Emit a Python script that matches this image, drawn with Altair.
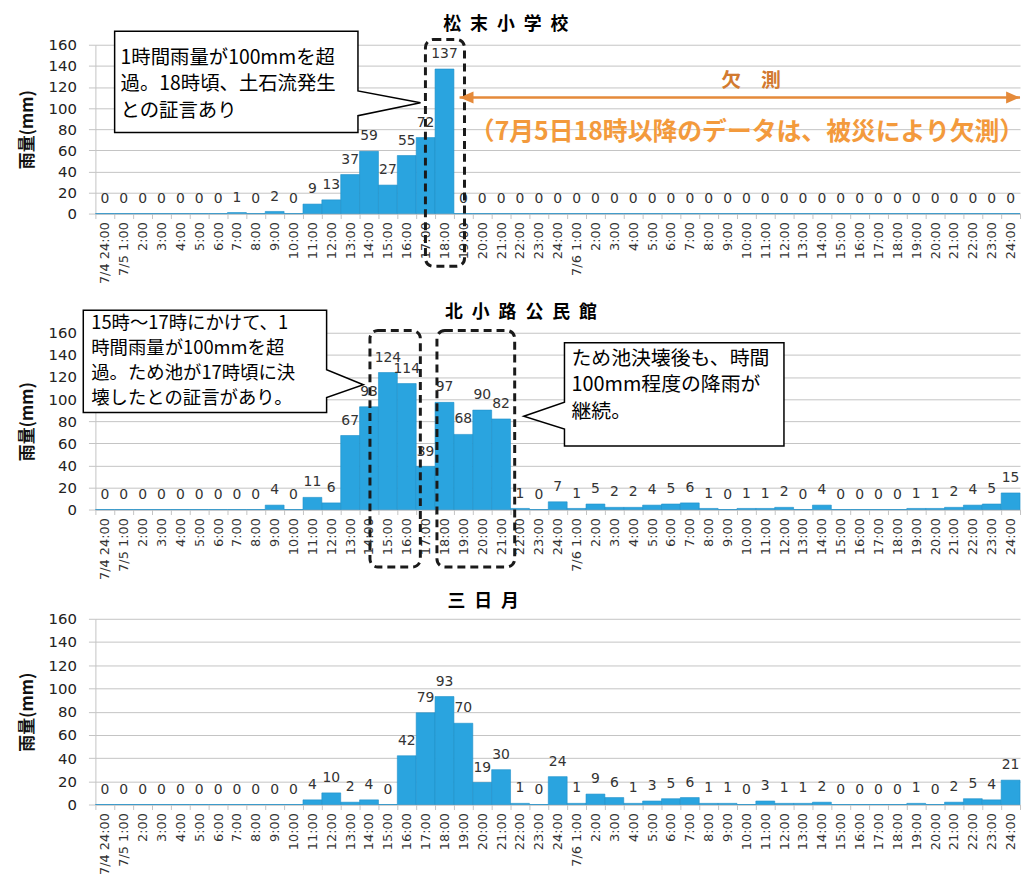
import altair as alt
import pandas as pd

# ---------------- data ----------------
hours = ["1:00", "2:00", "3:00", "4:00", "5:00", "6:00", "7:00", "8:00", "9:00", "10:00",
         "11:00", "12:00", "13:00", "14:00", "15:00", "16:00", "17:00", "18:00", "19:00",
         "20:00", "21:00", "22:00", "23:00", "24:00"]
slots = ["7/4 24:00"] + ["7/5 " + h for h in hours] + ["7/6 " + h for h in hours]

rain_matsusue = [0,
                 0, 0, 0, 0, 0, 0, 1, 0, 2, 0, 9, 13, 37, 59, 27, 55, 72, 137, 0, 0, 0, 0, 0, 0,
                 0, 0, 0, 0, 0, 0, 0, 0, 0, 0, 0, 0, 0, 0, 0, 0, 0, 0, 0, 0, 0, 0, 0, 0]
rain_kitakoji = [0,
                 0, 0, 0, 0, 0, 0, 0, 0, 4, 0, 11, 6, 67, 93, 124, 114, 39, 97, 68, 90, 82, 1, 0, 7,
                 1, 5, 2, 2, 4, 5, 6, 1, 0, 1, 1, 2, 0, 4, 0, 0, 0, 0, 1, 1, 2, 4, 5, 15]
rain_mikazuki = [0,
                 0, 0, 0, 0, 0, 0, 0, 0, 0, 0, 4, 10, 2, 4, 0, 42, 79, 93, 70, 19, 30, 1, 0, 24,
                 1, 9, 6, 1, 3, 5, 6, 1, 1, 0, 3, 1, 1, 2, 0, 0, 0, 0, 1, 0, 2, 5, 4, 21]

titles = ["松\u2002末\u2002小\u2002学\u2002校", "北\u2002小\u2002路\u2002公\u2002民\u2002館", "三\u2002日\u2002月"]

note1 = ["1時間雨量が100mmを超", "過。18時頃、土石流発生", "との証言あり"]
note2a = ["15時～17時にかけて、1", "時間雨量が100mmを超", "過。ため池が17時頃に決", "壊したとの証言があり。"]
note2b = ["ため池決壊後も、時間", "100mm程度の降雨が", "継続。"]
missing_label = "欠　測"
missing_note = "（7月5日18時以降のデータは、被災により欠測）"

# ---------------- style ----------------
FONT_JP = "Noto Sans CJK JP"
FONT_NUM = "DejaVu Sans"
BAR = "#2AA4DF"
BAR_EDGE = "#1F8FC9"
GRID = "#C4C4C4"
ORANGE = "#E58A3A"
ORANGE_TXT = "#F39A3C"
ORANGE_DARK = "#D27A30"
W = 931

xscale = alt.Scale(domain=slots, paddingInner=0, paddingOuter=0)
yscale = alt.Scale(domain=[0, 160], nice=False, zero=True)

label_expr = ("indexof(['7/4 24:00','7/5 1:00','7/6 1:00'], datum.value) >= 0 ? "
              "datum.value : split(datum.value, ' ')[1]")

x_axis = alt.Axis(title=None, labelAngle=-90, labelExpr=label_expr, labelFont=FONT_NUM,
                  labelFontSize=13, labelColor="#333333", tickBand="extent", tickSize=5,
                  tickColor=GRID, domainColor=GRID, labelPadding=3, grid=False,
                  labelOverlap=False, labelBound=False)
y_axis = alt.Axis(title="雨量(mm)", values=[0, 20, 40, 60, 80, 100, 120, 140, 160],
                  titleFont=FONT_JP, titleFontSize=17, titleFontWeight="bold",
                  titleColor="#111111", titlePadding=12, labelFont=FONT_NUM, labelFontSize=15,
                  labelColor="#222222", labelPadding=12, tickSize=7, tickColor=GRID,
                  domainColor=GRID, gridColor=GRID, grid=True)

one = pd.DataFrame({"k": [0]})


def xd(slot, bp):
    return alt.XDatum(slot, type="nominal", bandPosition=bp, scale=xscale, axis=x_axis)


def x2d(slot, bp):
    return alt.X2Datum(slot, bandPosition=bp)


def yd(v):
    return alt.YDatum(v, type="quantitative", scale=yscale, axis=y_axis)


def y2d(v):
    return alt.Y2Datum(v)


def base_layers(values):
    df = pd.DataFrame({"slot": slots, "rain": values})
    enc_x = alt.X("slot:N", sort=slots, scale=xscale, axis=x_axis)
    enc_y = alt.Y("rain:Q", scale=yscale, axis=y_axis)
    bars = alt.Chart(df).mark_bar(color=BAR, stroke=BAR_EDGE, strokeWidth=0.6).encode(
        x=enc_x, y=enc_y)
    labels = alt.Chart(df).mark_text(font=FONT_NUM, fontSize=14, color="#333333",
                                     baseline="middle", dy=-15).encode(
        x=enc_x, y=enc_y, text="rain:Q")
    return [bars, labels]


def title_mark(text, slot, bp, y_px):
    return alt.Chart(one).mark_text(text=text, font=FONT_JP, fontSize=18, fontWeight="bold",
                                    color="black", baseline="middle", align="center").encode(
        x=xd(slot, bp), y=alt.value(y_px))


def dashed_box(s1, bp1, s2, bp2, top, bottom):
    return alt.Chart(one).mark_rect(fill="transparent", stroke="#1a1a1a", strokeWidth=3,
                                    strokeDash=[8, 5], cornerRadius=8).encode(
        x=xd(s1, bp1), x2=x2d(s2, bp2), y=yd(top), y2=y2d(bottom))


def callout(slot, bp, val, path, lines, tdx, tdy, fs, lh):
    shape = alt.Chart(one).mark_point(shape=path, size=4, filled=True, fill="white",
                                      stroke="black", strokeWidth=1.5, opacity=1).encode(
        x=xd(slot, bp), y=yd(val))
    text = alt.Chart(one).mark_text(text=lines, align="left", baseline="middle", dx=tdx, dy=tdy,
                                    font=FONT_JP, fontSize=fs, lineHeight=lh,
                                    color="black").encode(x=xd(slot, bp), y=yd(val))
    return [shape, text]


def panel(values, height, extra):
    return alt.layer(*base_layers(values), *extra).properties(width=W, height=height)


# ---------------- panel 1 ----------------
p1_extra = [
    title_mark(titles[0], "7/5 21:00", 0.75, -20),
    dashed_box("7/5 17:00", 0.49, "7/5 19:00", 0.56, 165, -50),
    *callout("7/5 17:00", 0.23, 105,
             "M0,0 L-63,-12 L-63,-72 L-308,-72 L-308,30 L-63,30 L-63,13 Z",
             note1, -302, -45, 19.5, 26.5),
    alt.Chart(one).mark_rule(color=ORANGE, strokeWidth=2.5).encode(
        x=xd("7/5 19:00", 0.3), x2=x2d("7/6 24:00", 1.0), y=yd(110)),
    alt.Chart(one).mark_point(shape="M0,0 L14,-6 L14,6 Z", size=4, filled=True, color=ORANGE,
                              opacity=1).encode(x=xd("7/5 19:00", 0.3), y=yd(110)),
    alt.Chart(one).mark_point(shape="M0,0 L-14,-6 L-14,6 Z", size=4, filled=True, color=ORANGE,
                              opacity=1).encode(x=xd("7/6 24:00", 1.0), y=yd(110)),
    alt.Chart(one).mark_text(text=missing_label, font=FONT_JP, fontSize=20, fontWeight="bold",
                             color=ORANGE_DARK, baseline="middle").encode(
        x=xd("7/6 10:00", 0.74), y=yd(126)),
    alt.Chart(one).mark_text(text=missing_note, font=FONT_JP, fontSize=25, fontWeight="bold",
                             color=ORANGE_TXT, baseline="middle").encode(
        x=xd("7/6 10:00", 0.53), y=yd(77)),
]

# ---------------- panel 2 ----------------
p2_extra = [
    title_mark(titles[1], "7/5 22:00", 0.55, -20),
    dashed_box("7/5 14:00", 0.55, "7/5 17:00", 0.22, 162, -52),
    dashed_box("7/5 18:00", 0.1, "7/5 22:00", 0.22, 162, -52),
    *callout("7/5 14:00", 0.2, 113,
             "M0,0 L-37,-15 L-37,-75 L-282,-75 L-282,28 L-37,28 L-37,13 Z",
             note2a, -274, -62, 18.5, 25),
    *callout("7/5 22:00", 0.7, 84.5,
             "M0,0 L41,-14 L41,-74 L262,-74 L262,30 L41,30 L41,13 Z",
             note2b, 48, -58, 20, 27),
]

# ---------------- panel 3 ----------------
p3_extra = [
    title_mark(titles[2], "7/5 20:00", 0.55, -17),
]

p1 = panel(rain_matsusue, 170, p1_extra)
p2 = panel(rain_kitakoji, 178, p2_extra)
p3 = panel(rain_mikazuki, 187, p3_extra)

chart = alt.vconcat(alt.vconcat(p1, p2, spacing=20), p3, spacing=13).properties(
    padding={"left": 10, "top": 5, "right": 0, "bottom": 0},
    background="white",
).configure_view(stroke=None)

chart.save("out.html", embed_options={"renderer": "svg", "actions": False})
